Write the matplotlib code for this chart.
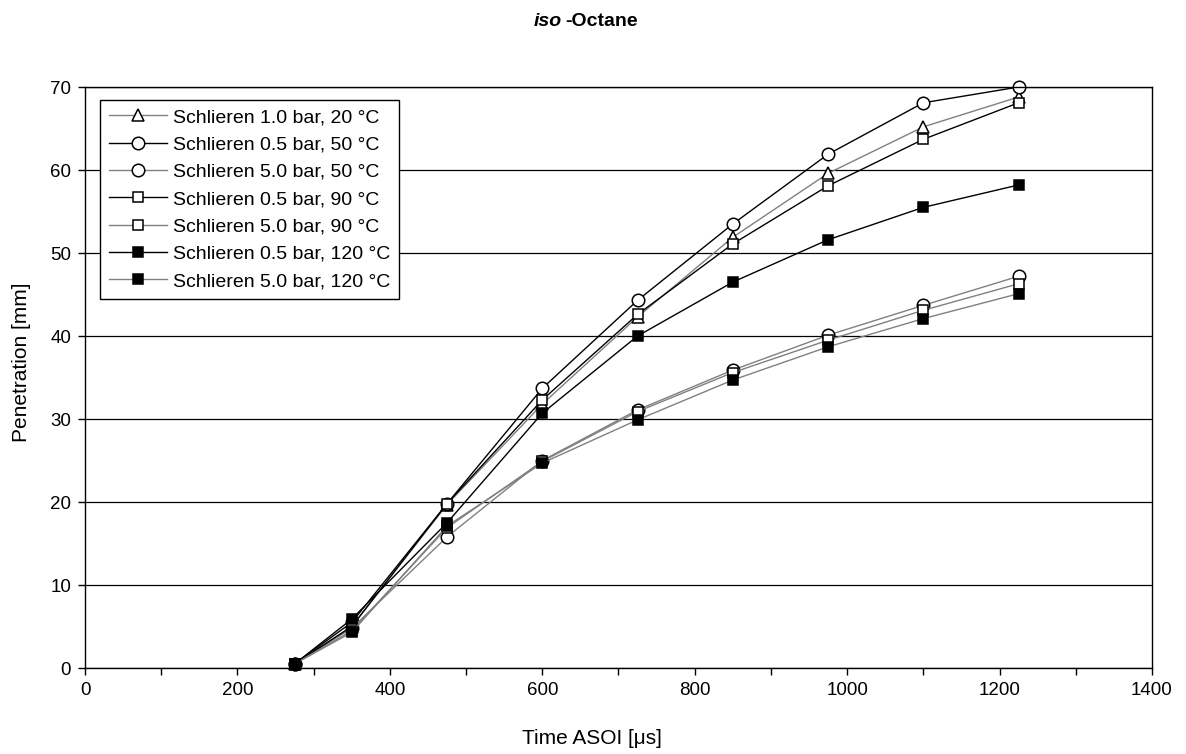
import matplotlib
matplotlib.use("Agg")
import matplotlib.pyplot as plt
from matplotlib.ticker import MultipleLocator

plt.rcParams['font.family'] = ['Liberation Sans', 'DejaVu Sans']

time_us = [275, 350, 475, 600, 725, 850, 975, 1100, 1225]

labels = [
    "Schlieren 1.0 bar, 20 °C",
    "Schlieren 0.5 bar, 50 °C",
    "Schlieren 5.0 bar, 50 °C",
    "Schlieren 0.5 bar, 90 °C",
    "Schlieren 5.0 bar, 90 °C",
    "Schlieren 0.5 bar, 120 °C",
    "Schlieren 5.0 bar, 120 °C",
]

pen_1bar_20C = [0.5, 5.0, 19.7, 31.8, 42.3, 51.9, 59.6, 65.2, 68.8]
pen_05bar_50C = [0.5, 5.5, 19.8, 33.7, 44.3, 53.5, 61.9, 68.1, 70.0]
pen_5bar_50C = [0.5, 4.8, 15.8, 25.0, 31.1, 35.9, 40.1, 43.7, 47.2]
pen_05bar_90C = [0.5, 5.0, 19.8, 32.3, 42.6, 51.1, 58.1, 63.7, 68.1]
pen_5bar_90C = [0.5, 4.5, 16.9, 24.9, 30.9, 35.6, 39.5, 43.1, 46.3]
pen_05bar_120C = [0.5, 5.9, 17.5, 30.7, 40.0, 46.5, 51.6, 55.5, 58.2]
pen_5bar_120C = [0.5, 4.3, 17.1, 24.7, 29.9, 34.7, 38.7, 42.1, 45.1]

series = [pen_1bar_20C, pen_05bar_50C, pen_5bar_50C, pen_05bar_90C,
          pen_5bar_90C, pen_05bar_120C, pen_5bar_120C]
markers = ['^', 'o', 'o', 's', 's', 's', 's']
faces = ['white', 'white', 'white', 'white', 'white', 'black', 'black']
lcolors = ['#808080', 'black', '#808080', 'black', '#808080', 'black', '#808080']
msizes = [8.5, 9, 9, 7.8, 7.8, 7.8, 7.8]

fig = plt.figure(figsize=(11.86, 7.54), dpi=100)
ax = fig.add_axes([0.0717, 0.114, 0.8996, 0.7706])

for y, lab, m, fc, lc, ms in zip(series, labels, markers, faces, lcolors, msizes):
    ax.plot(time_us, y, color=lc, linewidth=1.0, marker=m, markersize=ms,
            markerfacecolor=fc, markeredgecolor='black', markeredgewidth=1.1,
            label=lab, clip_on=False)

ax.set_xlim(0, 1400)
ax.set_ylim(0, 70)
ax.xaxis.set_major_locator(MultipleLocator(200))
ax.xaxis.set_minor_locator(MultipleLocator(100))
ax.yaxis.set_major_locator(MultipleLocator(10))
ax.tick_params(axis='both', which='both', direction='out', labelsize=13.5, color='black')
ax.tick_params(axis='both', which='major', length=5, width=1, pad=5)
ax.tick_params(axis='x', which='minor', length=5, width=1)
ax.yaxis.grid(True, color='black', linewidth=0.9)
ax.set_axisbelow(True)
for sp in ax.spines.values():
    sp.set_color('black')
    sp.set_linewidth(1.0)

fig.text(592 / 1186, 1 - 739 / 754, "Time ASOI [\u03bcs]", fontsize=15,
         ha='center', va='center')
fig.text(22 / 1186, 1 - 362 / 754, "Penetration [mm]", fontsize=15,
         ha='center', va='center', rotation=90)

leg = ax.legend(loc='upper left', bbox_to_anchor=(0.014, 0.978), fontsize=14,
                frameon=True, fancybox=False, edgecolor='black', framealpha=1,
                handlelength=3.0, handletextpad=0.3, borderaxespad=0,
                labelspacing=0.5, borderpad=0.45, markerscale=1.0)
leg.get_frame().set_linewidth(1.0)

fig.text(0.4735, 0.972, "iso", fontsize=14, fontweight='bold', fontstyle='italic',
         ha='right', va='center')
fig.text(0.4765, 0.972, "-Octane", fontsize=14, fontweight='bold',
         ha='left', va='center')

fig.savefig("out.png", dpi=100)
